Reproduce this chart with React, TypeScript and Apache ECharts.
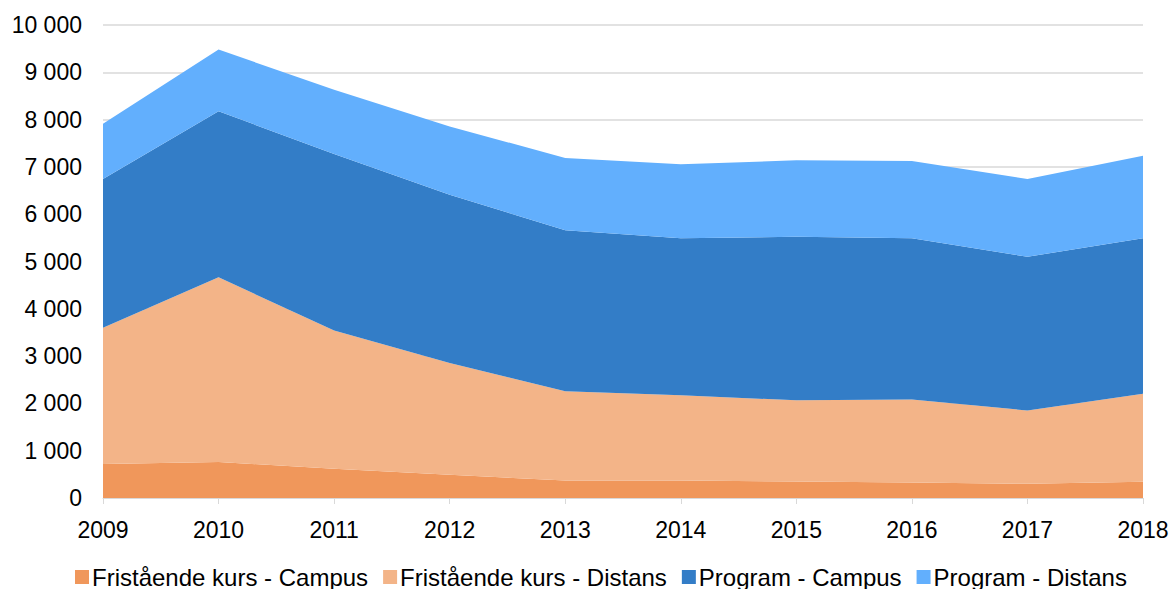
import React, { useEffect, useRef } from "react";
import * as echarts from "echarts";

const years = ["2009", "2010", "2011", "2012", "2013", "2014", "2015", "2016", "2017", "2018"];
const fkCampus = [720, 760, 620, 490, 370, 370, 350, 330, 300, 345];
const fkDistans = [2880, 3905, 2920, 2365, 1885, 1800, 1715, 1750, 1550, 1860];
const progCampus = [3145, 3510, 3735, 3555, 3405, 3320, 3460, 3410, 3250, 3285];
const progDistans = [1165, 1305, 1355, 1445, 1530, 1565, 1615, 1635, 1645, 1745];
const seriesNames = ["Fristående kurs - Campus", "Fristående kurs - Distans", "Program - Campus", "Program - Distans"];
const seriesColors = ["#F0975B", "#F3B488", "#337DC7", "#62AFFD"];

const fmt = (v: number) => {
  const s = String(Math.round(v));
  return s.replace(/\B(?=(\d{3})+(?!\d))/g, " ");
};

export default function App() {
  const ref = useRef<HTMLDivElement>(null);
  useEffect(() => {
    if (!ref.current) return;
    const chart = echarts.init(ref.current, undefined, { renderer: "svg" });
    const data = [fkCampus, fkDistans, progCampus, progDistans];
    chart.setOption({
      animation: false,
      textStyle: { fontFamily: "Liberation Sans, Arial, sans-serif" },
      grid: { left: 103, right: 30, top: 25, bottom: 91, containLabel: false },
      legend: {
        left: 70,
        top: 560,
        itemWidth: 14,
        itemHeight: 14,
        itemGap: 15,
        icon: "rect",
        textStyle: { fontSize: 24, color: "#000", padding: [0, 0, 0, -2] },
        data: seriesNames,
      },
      xAxis: {
        type: "category",
        boundaryGap: false,
        data: years,
        axisLine: { lineStyle: { color: "#D9D9D9", width: 1 } },
        axisTick: { show: true, length: 6, lineStyle: { color: "#D9D9D9" } },
        axisLabel: { fontSize: 23, color: "#000", margin: 20 },
        splitLine: { show: false },
      },
      yAxis: {
        type: "value",
        min: 0,
        max: 10000,
        interval: 1000,
        axisLine: { show: false },
        axisTick: { show: false },
        axisLabel: { fontSize: 23, color: "#000", margin: 21, formatter: (v: number) => fmt(v) },
        splitLine: { lineStyle: { color: "#D9D9D9", width: 1.5 } },
      },
      series: data.map((d, i) => ({
        name: seriesNames[i],
        type: "line",
        stack: "total",
        data: d,
        symbol: "none",
        lineStyle: { width: 0 },
        itemStyle: { color: seriesColors[i] },
        areaStyle: { color: seriesColors[i], opacity: 1 },
      })),
    });
    return () => chart.dispose();
  }, []);
  return <div ref={ref} style={{ width: 1173, height: 589, position: "absolute", left: 0, top: 0 }} />;
}
